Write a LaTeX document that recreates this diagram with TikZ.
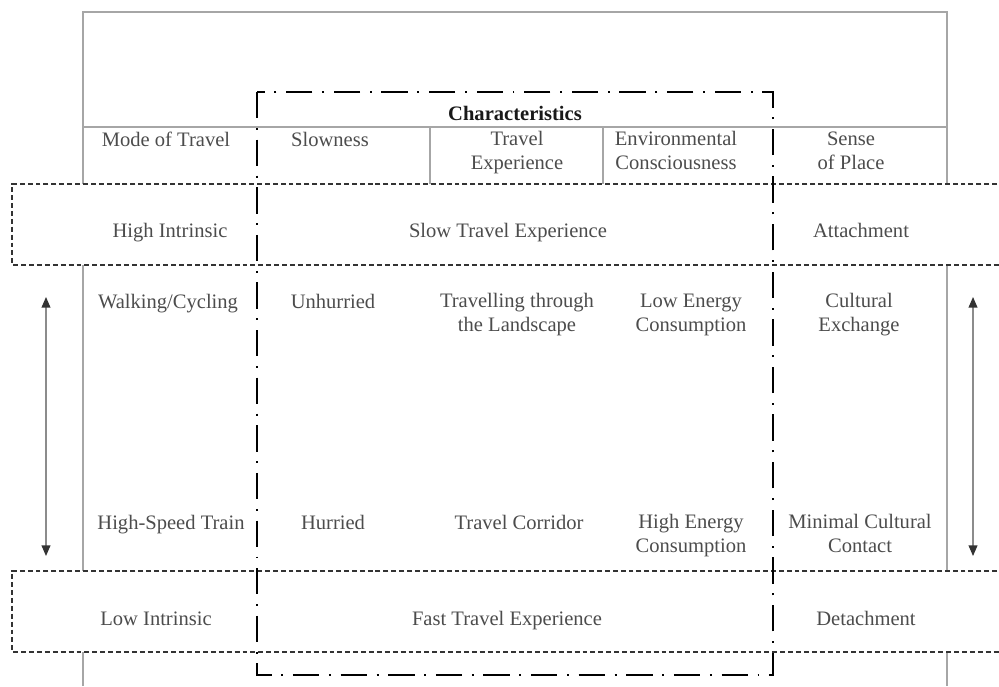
\documentclass[tikz,border=0pt]{standalone}
\usepackage{fontspec}
\setmainfont{Liberation Serif}
\usetikzlibrary{arrows.meta}

\begin{document}
\begin{tikzpicture}[x=0.02cm, y=-0.02cm,
    frame/.style={draw=black!35, line width=0.85pt},
    band/.style={draw=black!80, line width=0.75pt, dash pattern=on 2.8pt off 1.7pt, fill=white},
    charbox/.style={draw=black, line width=1.6pt, dash pattern=on 15pt off 5.5pt on 1.1pt off 5.5pt},
    cell/.style={text=black!70, align=center, inner sep=0pt, font=\fontsize{11.7}{13.7}\selectfont,
        execute at begin node=\strut, execute at end node=\strut},
    updown/.style={draw=black!45, line width=0.7pt, {Triangle[length=6pt, width=5pt, color=black!80]}-{Triangle[length=6pt, width=5pt, color=black!80]}}]
    \useasboundingbox (0,0) rectangle (999,686);

    % Outer frame and header row
    \draw[frame] (83,686) -- (83,12) -- (947,12) -- (947,686);
    \draw[frame] (83,127) -- (947,127);
    \draw[frame] (430,127) -- (430,184);
    \draw[frame] (603,127) -- (603,184);

    % Slow band and fast band
    \path[band] (1005,184) -- (12,184) -- (12,265) -- (1005,265);
    \path[band] (1005,571) -- (12,571) -- (12,652) -- (1005,652);

    % Characteristics box
    \draw[charbox] (257,92) rectangle (773,675);

    % Header
    \node[cell, text=black!90, font=\fontsize{11.7}{13.7}\selectfont\bfseries] (charac) at (515,116) {Characteristics};
    \node[cell] (mode) at (166,142) {Mode of Travel};
    \node[cell] (slowness) at (330,142) {Slowness};
    \node[cell] (travexp) at (517,154) {Travel\\Experience};
    \node[cell] (envcons) at (676,154) {Environmental\\Consciousness};
    \node[cell] (sense) at (851,154) {Sense\\of Place};

    % Slow band
    \node[cell] (highint) at (170,233) {High Intrinsic};
    \node[cell] (slowexp) at (508,233) {Slow Travel Experience};
    \node[cell] (attach) at (861,233) {Attachment};

    % Walking/Cycling row
    \node[cell] (walk) at (168,304) {Walking/Cycling};
    \node[cell] (unhurried) at (333,304) {Unhurried};
    \node[cell] (landscape) at (517,316) {Travelling through\\the Landscape};
    \node[cell] (lowenergy) at (691,316) {Low Energy\\Consumption};
    \node[cell] (exchange) at (859,316) {Cultural\\Exchange};

    % High-Speed Train row
    \node[cell] (train) at (171,525) {High-Speed Train};
    \node[cell] (hurried) at (333,525) {Hurried};
    \node[cell] (corridor) at (519,525) {Travel Corridor};
    \node[cell] (highenergy) at (691,537) {High Energy\\Consumption};
    \node[cell] (contact) at (860,537) {Minimal Cultural\\Contact};

    % Fast band
    \node[cell] (lowint) at (156,621) {Low Intrinsic};
    \node[cell] (fastexp) at (507,621) {Fast Travel Experience};
    \node[cell] (detach) at (866,621) {Detachment};

    % Arrows
    \coordinate (lefttop) at (46,297);
    \coordinate (leftbot) at (46,556);
    \coordinate (righttop) at (973,297);
    \coordinate (rightbot) at (973,556);
    \draw[updown] (lefttop) -- (leftbot);
    \draw[updown] (righttop) -- (rightbot);
\end{tikzpicture}
\end{document}
